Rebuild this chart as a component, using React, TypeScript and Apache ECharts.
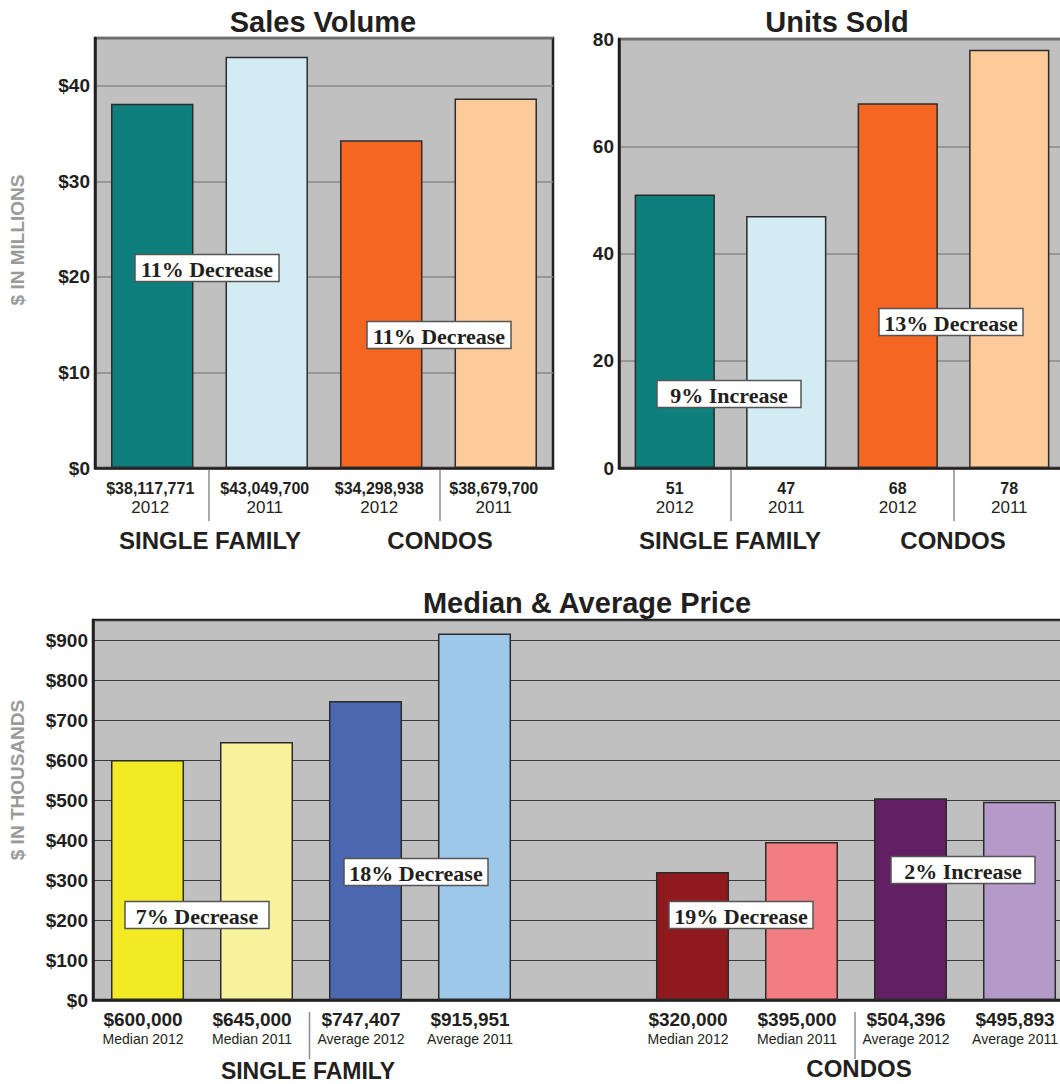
import React, { useEffect, useRef } from "react";
import * as echarts from "echarts";

// ---------- data ----------
const salesYears = ["2012", "2011", "2012", "2011"];
const salesValues = [38117771, 43049700, 34298938, 38679700];
const salesColors = ["#0e7f7c", "#d3ebf2", "#f36722", "#fdcb99"];

const unitsYears = ["2012", "2011", "2012", "2011"];
const unitsValues = [51, 47, 68, 78];
const unitsColors = ["#0e7f7c", "#d3ebf2", "#f36722", "#fdcb99"];

const priceLabels = [
  "Median 2012", "Median 2011", "Average 2012", "Average 2011", "",
  "Median 2012", "Median 2011", "Average 2012", "Average 2011",
];
const priceValues: (number | null)[] = [600000, 645000, 747407, 915951, null, 320000, 395000, 504396, 495893];
const priceColors = ["#f2ea24", "#f7f29b", "#4a67b0", "#9dc8ea", "#000", "#8e1a1e", "#f27e82", "#621f63", "#b599c8"];

const groupNames = ["SINGLE FAMILY", "CONDOS"];

const notes = [
  { text: "11% Decrease", cx: 207, cy: 268 },
  { text: "11% Decrease", cx: 439, cy: 335 },
  { text: "9% Increase", cx: 729, cy: 394 },
  { text: "13% Decrease", cx: 951, cy: 322 },
  { text: "7% Decrease", cx: 197, cy: 915 },
  { text: "18% Decrease", cx: 416, cy: 872 },
  { text: "19% Decrease", cx: 741, cy: 915 },
  { text: "2% Increase", cx: 963, cy: 870 },
];

const FONT = "'Liberation Sans', Arial, Helvetica, sans-serif";
const SERIF = "'Liberation Serif', 'Times New Roman', serif";
const INK = "#231f20";

const money = (v: number) => "$" + v.toLocaleString("en-US");

export default function App() {
  const ref = useRef<HTMLDivElement>(null);

  useEffect(() => {
    if (!ref.current) return;
    const chart = echarts.init(ref.current, undefined, { renderer: "svg" });

    const gridBase = {
      show: true,
      backgroundColor: "#c0c0c0",
      borderColor: INK,
      borderWidth: 2.5,
    };

    const yLabel = (fmt: (v: number) => string) => ({
      color: INK,
      fontFamily: FONT,
      fontWeight: "bold" as const,
      fontSize: 19,
      margin: 5,
      showMaxLabel: false,
      formatter: fmt,
    });

    const xAxisCommon = {
      type: "category" as const,
      axisTick: { show: false },
      axisLine: { show: true, lineStyle: { color: INK, width: 2.5 } },
    };

    const barItems = (vals: (number | null)[], colors: string[], scale: number) =>
      vals.map((v, i) => ({
        value: v == null ? null : v / scale,
        itemStyle: { color: colors[i], borderColor: "#2b2b2b", borderWidth: 1.5 },
      }));

    const graphics: any[] = [];
    const addText = (text: string, x: number, y: number, size: number, extra: any = {}) =>
      graphics.push({
        type: "text",
        x,
        y,
        z: 100,
        style: {
          text,
          fill: INK,
          font: `bold ${size}px ${FONT}`,
          textAlign: "center",
          textVerticalAlign: "middle",
          ...extra,
        },
      });
    const addLine = (x: number, y1: number, y2: number) =>
      graphics.push({
        type: "line",
        z: 100,
        shape: { x1: x, y1, x2: x, y2 },
        style: { stroke: "#8c8c8c", lineWidth: 1.5 },
      });

    // group labels
    addText(groupNames[0], 210, 540, 24);
    addText(groupNames[1], 440, 540, 24);
    addText(groupNames[0], 730, 540, 24);
    addText(groupNames[1], 953, 540, 24);
    addText(groupNames[0], 308, 1071, 23);
    addText(groupNames[1], 859, 1068, 24);
    // separators
    addLine(209, 470, 521);
    addLine(440, 470, 521);
    addLine(731, 470, 521);
    addLine(954, 470, 521);
    addLine(309.5, 1012, 1059);
    addLine(855, 1012, 1059);
    // y axis names
    graphics.push({
      type: "text", x: 17, y: 240, rotation: Math.PI / 2, z: 100,
      style: { text: "$ IN MILLIONS", fill: "#9a9a9a", font: `bold 19px ${FONT}`, textAlign: "center", textVerticalAlign: "middle" },
    });
    graphics.push({
      type: "text", x: 17, y: 780, rotation: Math.PI / 2, z: 100,
      style: { text: "$ IN THOUSANDS", fill: "#9a9a9a", font: `bold 19px ${FONT}`, textAlign: "center", textVerticalAlign: "middle" },
    });
    // annotation boxes
    notes.forEach((n) => {
      graphics.push({
        type: "rect", z: 110,
        shape: { x: n.cx - 72, y: n.cy - 13.5, width: 144, height: 27 },
        style: { fill: "#ffffff", stroke: "#555555", lineWidth: 1.5 },
      });
      graphics.push({
        type: "text", x: n.cx, y: n.cy + 1, z: 111,
        style: { text: n.text, fill: INK, font: `bold 22px ${SERIF}`, textAlign: "center", textVerticalAlign: "middle" },
      });
    });

    const titleStyle = { fontFamily: FONT, fontSize: 29, fontWeight: "bold", color: INK };

    const option: any = {
      animation: false,
      backgroundColor: "#ffffff",
      title: [
        { text: "Sales Volume", left: 318, top: 2, textAlign: "center", textStyle: titleStyle },
        { text: "Units Sold", left: 832, top: 2, textAlign: "center", textStyle: titleStyle },
        { text: "Median & Average Price", left: 582, top: 583, textAlign: "center", textStyle: titleStyle },
      ],
      grid: [
        { ...gridBase, left: 95, top: 38, width: 458, height: 430 },
        { ...gridBase, left: 619, top: 39, width: 446, height: 429 },
        { ...gridBase, left: 93, top: 620, width: 981, height: 380 },
      ],
      xAxis: [
        {
          ...xAxisCommon, gridIndex: 0,
          data: salesValues.map(money),
          axisLabel: {
            interval: 0, margin: 11,
            formatter: (v: string, i: number) => `{v|${v}}\n{y|${salesYears[i]}}`,
            rich: {
              v: { fontFamily: FONT, fontWeight: "bold", fontSize: 16, color: INK, lineHeight: 19, padding: [0, 4, 0, 0] },
              y: { fontFamily: FONT, fontSize: 17, color: INK, lineHeight: 19, padding: [0, 4, 0, 0] },
            },
          },
        },
        {
          ...xAxisCommon, gridIndex: 1,
          data: unitsValues.map(String),
          axisLabel: {
            interval: 0, margin: 11,
            formatter: (v: string, i: number) => `{v|${v}}\n{y|${unitsYears[i]}}`,
            rich: {
              v: { fontFamily: FONT, fontWeight: "bold", fontSize: 16, color: INK, lineHeight: 19 },
              y: { fontFamily: FONT, fontSize: 17, color: INK, lineHeight: 19 },
            },
          },
        },
        {
          ...xAxisCommon, gridIndex: 2,
          data: priceValues.map((v, i) => (v == null ? " " + i : money(v))),
          axisLabel: {
            interval: 0, margin: 8,
            formatter: (v: string, i: number) =>
              priceValues[i] == null ? "" : `{v|${v}}\n{y|${priceLabels[i]}}`,
            rich: {
              v: { fontFamily: FONT, fontWeight: "bold", fontSize: 19, color: INK, lineHeight: 22, padding: [0, 9, 0, 0] },
              y: { fontFamily: FONT, fontSize: 14, color: INK, lineHeight: 18, padding: [0, 9, 0, 0] },
            },
          },
        },
      ],
      yAxis: [
        {
          type: "value", gridIndex: 0, min: 0, max: 45, interval: 10,
          axisLine: { show: true, lineStyle: { color: INK, width: 2.5 } },
          splitLine: { show: true, lineStyle: { color: "#8a8a8a", width: 1.5 } },
          axisLabel: yLabel((v) => "$" + v),
        },
        {
          type: "value", gridIndex: 1, min: 0, max: 80, interval: 20,
          axisLine: { show: true, lineStyle: { color: INK, width: 2.5 } },
          splitLine: { show: true, lineStyle: { color: "#8a8a8a", width: 1.5 } },
          axisLabel: { ...yLabel((v) => String(v)), showMaxLabel: true },
        },
        {
          type: "value", gridIndex: 2, min: 0, max: 950, interval: 100,
          axisLine: { show: true, lineStyle: { color: INK, width: 2.5 } },
          splitLine: { show: true, lineStyle: { color: "#3a3a3a", width: 1.2 } },
          axisLabel: yLabel((v) => "$" + v),
        },
      ],
      series: [
        { type: "bar", xAxisIndex: 0, yAxisIndex: 0, barWidth: "72%", data: barItems(salesValues, salesColors, 1e6) },
        { type: "bar", xAxisIndex: 1, yAxisIndex: 1, barWidth: "72%", data: barItems(unitsValues, unitsColors, 1) },
        { type: "bar", xAxisIndex: 2, yAxisIndex: 2, barWidth: "67%", data: barItems(priceValues, priceColors, 1e3) },
      ],
      graphic: graphics,
    };

    chart.setOption(option);
    return () => chart.dispose();
  }, []);

  return (
    <div style={{ position: "absolute", left: 0, top: 0, width: 1060, height: 1084, overflow: "hidden" }}>
      <div ref={ref} style={{ width: 1090, height: 1084 }} />
    </div>
  );
}
